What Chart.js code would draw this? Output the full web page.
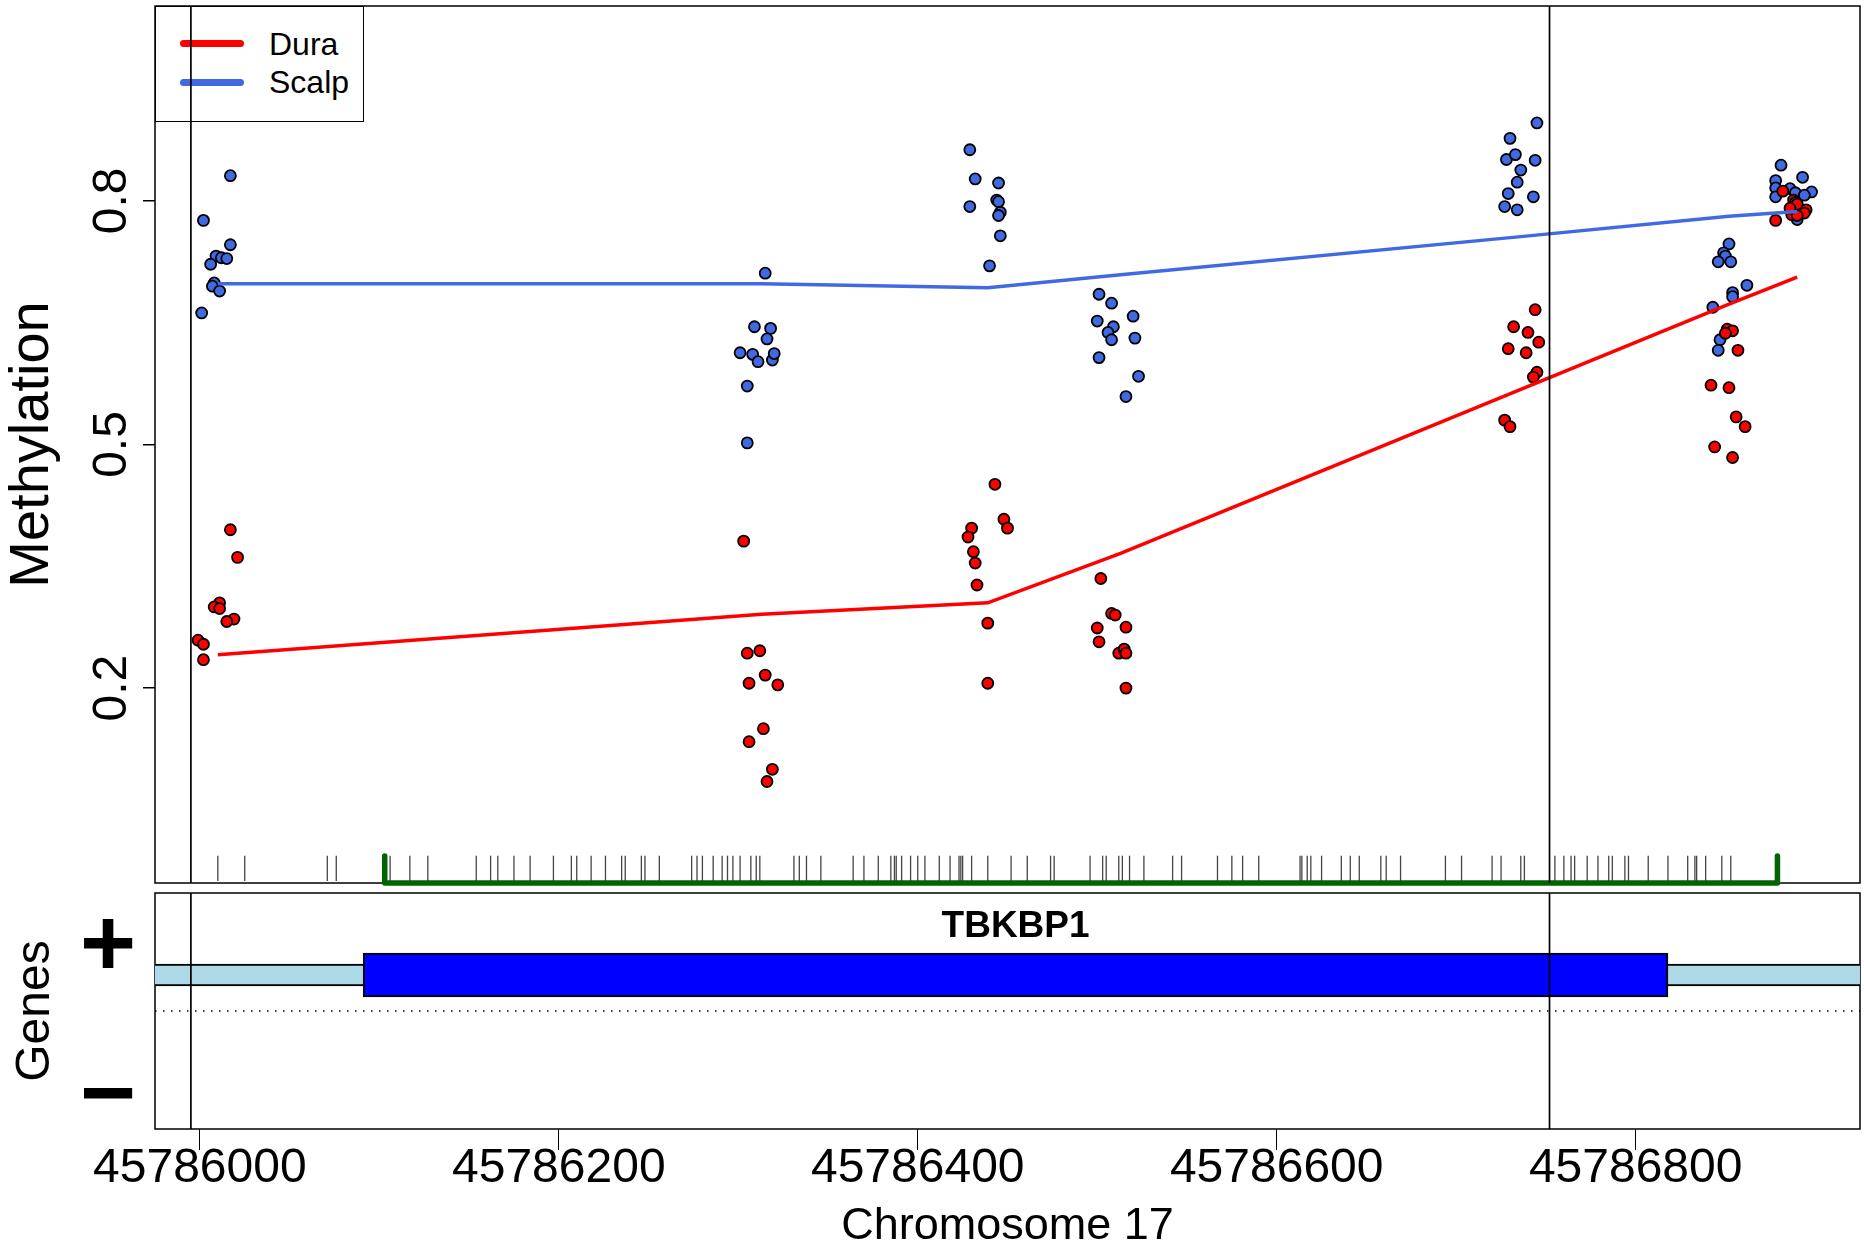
<!DOCTYPE html>
<html lang="en">
<head>
  <meta charset="UTF-8">
  <title>TBKBP1 methylation, Dura vs Scalp</title>
  <script src="https://cdn.jsdelivr.net/npm/chart.js"></script>
  <style>
    body { margin: 0; background: #fff; }
    #wrap { position: relative; width: 1864px; height: 1243px; font-family: "Liberation Sans", Arial, sans-serif; }
    canvas { position: absolute; left: 0; z-index: 1; }
    #meth { top: 0; }
    #genes { top: 889px; }
    .legend { position: absolute; left: 155px; top: 6px; width: 209px; height: 116px; border: 1.5px solid #000; box-sizing: border-box; z-index: 0; }
    .legend .swatch { position: absolute; left: 24px; width: 64px; height: 7px; border-radius: 4px; }
    .legend .label { position: absolute; left: 113px; font-size: 32px; line-height: 32px; color: #000; }
  </style>
</head>
<body>
  <div id="wrap">
    <div class="legend">
      <div class="swatch" style="top:33px;background:#ff0000"></div>
      <div class="label" style="top:21px">Dura</div>
      <div class="swatch" style="top:72px;background:#4169e1"></div>
      <div class="label" style="top:59px">Scalp</div>
    </div>
    <canvas id="meth" width="1864" height="893"></canvas>
    <canvas id="genes" width="1864" height="354"></canvas>
  </div>

  <script>
    // axis ticks
    const xTicks = [45786000, 45786200, 45786400, 45786600, 45786800];
    const methTicks = [0.2, 0.5, 0.8];

    // per-sample methylation (x jittered around each CpG)
    const scalpPos = [
      45786017, 45786002, 45786017, 45786009, 45786012, 45786015, 45786006, 45786008, 45786007, 45786011, 45786001,
      45786315, 45786309, 45786318, 45786316, 45786301, 45786308, 45786311, 45786319, 45786320, 45786305, 45786305,
      45786429, 45786432, 45786445, 45786444, 45786445, 45786429, 45786446, 45786445, 45786446, 45786440,
      45786501, 45786508, 45786520, 45786500, 45786509, 45786506, 45786508, 45786521, 45786501, 45786523, 45786516,
      45786745, 45786730, 45786728, 45786733, 45786744, 45786736, 45786734, 45786729, 45786743, 45786727, 45786734,
      45786852, 45786849, 45786850, 45786846, 45786853, 45786862, 45786854, 45786854, 45786843, 45786847, 45786846,
      45786881, 45786893, 45786878, 45786878, 45786886, 45786898, 45786889, 45786894, 45786878, 45786890, 45786887
    ];
    const scalpMeth = [
      0.831, 0.776, 0.746, 0.732, 0.730, 0.729, 0.722, 0.699, 0.695, 0.689, 0.662,
      0.711, 0.645, 0.643, 0.630, 0.613, 0.611, 0.602, 0.604, 0.612, 0.572, 0.502,
      0.863, 0.827, 0.822, 0.801, 0.799, 0.793, 0.786, 0.782, 0.757, 0.720,
      0.685, 0.674, 0.658, 0.652, 0.645, 0.638, 0.629, 0.631, 0.607, 0.584, 0.559,
      0.896, 0.877, 0.851, 0.857, 0.850, 0.838, 0.823, 0.809, 0.805, 0.793, 0.789,
      0.747, 0.736, 0.732, 0.725, 0.725, 0.696, 0.687, 0.682, 0.669, 0.629, 0.616,
      0.844, 0.829, 0.825, 0.816, 0.815, 0.811, 0.810, 0.807, 0.805, 0.777, 0.785
    ];
    const duraPos = [
      45786017, 45786021, 45786011, 45786008, 45786011, 45786019, 45786015, 45785999, 45786002, 45786002,
      45786303, 45786305, 45786312, 45786306, 45786315, 45786322, 45786306, 45786314, 45786319, 45786316,
      45786443, 45786448, 45786450, 45786430, 45786428, 45786431, 45786432, 45786433, 45786439, 45786439,
      45786502, 45786508, 45786510, 45786500, 45786516, 45786501, 45786512, 45786515, 45786516, 45786516,
      45786744, 45786732, 45786740, 45786746, 45786729, 45786739, 45786745, 45786743, 45786727, 45786730,
      45786851, 45786854, 45786850, 45786857, 45786842, 45786852, 45786856, 45786861, 45786844, 45786854,
      45786882, 45786888, 45786889, 45786890, 45786895, 45786894, 45786887, 45786890, 45786878, 45786886
    ];
    const duraMeth = [
      0.395, 0.361, 0.305, 0.300, 0.298, 0.285, 0.282, 0.259, 0.254, 0.235,
      0.381, 0.243, 0.246, 0.206, 0.216, 0.204, 0.134, 0.150, 0.100, 0.085,
      0.451, 0.408, 0.397, 0.397, 0.386, 0.368, 0.354, 0.327, 0.280, 0.206,
      0.335, 0.292, 0.290, 0.274, 0.275, 0.257, 0.243, 0.248, 0.243, 0.200,
      0.666, 0.645, 0.638, 0.626, 0.618, 0.613, 0.589, 0.583, 0.530, 0.522,
      0.642, 0.640, 0.637, 0.616, 0.573, 0.570, 0.534, 0.522, 0.497, 0.484,
      0.812, 0.801, 0.798, 0.796, 0.789, 0.785, 0.783, 0.782, 0.776, 0.791
    ];

    // smoothed group means
    const smoothPos = [45786010, 45786313, 45786439, 45786513, 45786736, 45786852, 45786890];
    const duraSmooth = [0.241, 0.291, 0.305, 0.366, 0.568, 0.673, 0.706];
    const scalpSmooth = [0.698, 0.698, 0.693, 0.709, 0.756, 0.781, 0.787];

    // CpG sites (rug) and CpG island
    const cpgSites = [
      45786010, 45786025, 45786071, 45786076, 45786106, 45786117, 45786127, 45786154, 45786162, 45786166,
      45786175, 45786184, 45786197, 45786207, 45786210, 45786218, 45786226, 45786235, 45786237, 45786246,
      45786248, 45786256, 45786274, 45786277, 45786280, 45786286, 45786291, 45786294, 45786297, 45786301,
      45786307, 45786310, 45786312, 45786331, 45786334, 45786338, 45786346, 45786364, 45786370, 45786378,
      45786385, 45786387, 45786388, 45786391, 45786396, 45786400, 45786404, 45786412, 45786418, 45786423,
      45786424, 45786425, 45786430, 45786439, 45786452, 45786461, 45786474, 45786476, 45786496, 45786503,
      45786505, 45786512, 45786514, 45786518, 45786526, 45786542, 45786547, 45786567, 45786575, 45786581,
      45786590, 45786613, 45786614, 45786617, 45786619, 45786625, 45786636, 45786641, 45786646, 45786658,
      45786661, 45786669, 45786694, 45786703, 45786720, 45786725, 45786736, 45786738, 45786755, 45786760,
      45786764, 45786766, 45786773, 45786779, 45786785, 45786787, 45786794, 45786796, 45786807, 45786818,
      45786829, 45786833, 45786834, 45786839, 45786848, 45786853
    ];
    const islandRange = [45786103, 45786879];

    // region bounds and gene model
    const dmrBounds = [45785995, 45786752];
    const geneName = 'TBKBP1';
    const geneUTR = [45785900, 45787000];
    const geneCDS = [45786091, 45786818];
    const strandTicks = [0.52, -0.74];

    Chart.defaults.font.family = '"Liberation Sans", Arial, Helvetica, sans-serif';
    Chart.defaults.color = '#000';

    const xMin = 45785975, xMax = 45786925;
    const rugLevel = -0.022, rugTop = -0.0066;
    const zip = (xs, ys) => xs.map((x, i) => ({ x, y: ys[i] }));

    const vline = (x, y0, y1) => ({
      type: 'line', data: [{ x, y: y0 }, { x, y: y1 }],
      borderColor: '#000', borderWidth: 1.7, pointRadius: 0, order: 0
    });

    // frame under the data, like R's box()
    const panelBox = {
      id: 'panelBox',
      beforeDatasetsDraw(chart) {
        const { ctx, chartArea: a } = chart;
        ctx.save();
        ctx.strokeStyle = '#000';
        ctx.lineWidth = 1.5;
        ctx.strokeRect(a.left, a.top, a.right - a.left, a.bottom - a.top);
        ctx.restore();
      }
    };

    // R-style y labels, turned to read upwards
    const methLabels = {
      id: 'methLabels',
      afterDraw(chart) {
        const { ctx, scales: { y } } = chart;
        ctx.save();
        ctx.font = '48px "Liberation Sans", Arial, sans-serif';
        ctx.fillStyle = '#000';
        ctx.textAlign = 'center';
        ctx.textBaseline = 'middle';
        methTicks.forEach(v => {
          ctx.save();
          ctx.translate(y.right - 42, y.getPixelForValue(v));
          ctx.rotate(-Math.PI / 2);
          ctx.fillText(v.toFixed(1), 0, 0);
          ctx.restore();
        });
        ctx.restore();
      }
    };

    const geneLabel = {
      id: 'geneLabel',
      afterDatasetsDraw(chart) {
        const { ctx, scales: { x, y } } = chart;
        ctx.save();
        ctx.font = 'bold 37px "Liberation Sans", Arial, sans-serif';
        ctx.fillStyle = '#000';
        ctx.textAlign = 'center';
        ctx.textBaseline = 'middle';
        ctx.fillText(geneName, x.getPixelForValue((geneCDS[0] + geneCDS[1]) / 2), y.getPixelForValue(0.71));
        ctx.restore();
      }
    };

    new Chart(document.getElementById('meth'), {
      type: 'scatter',
      data: {
        datasets: [
          vline(dmrBounds[0], -0.04, 1.04),
          vline(dmrBounds[1], -0.04, 1.04),
          { type: 'line', label: 'Dura', data: zip(smoothPos, duraSmooth), borderColor: '#ff0000', borderWidth: 3.5, pointRadius: 0, tension: 0, order: 1 },
          { type: 'line', label: 'Scalp', data: zip(smoothPos, scalpSmooth), borderColor: '#4169e1', borderWidth: 3.5, pointRadius: 0, tension: 0, order: 2 },
          {
            type: 'line',
            data: [{ x: islandRange[0], y: rugTop }, { x: islandRange[0], y: -0.04 }, { x: islandRange[1], y: -0.04 }, { x: islandRange[1], y: rugTop }],
            borderColor: '#006400', borderWidth: 5.5, borderCapStyle: 'round', borderJoinStyle: 'round',
            pointRadius: 0, clip: false, order: 3
          },
          { data: zip(duraPos, duraMeth), pointRadius: 5.5, pointBackgroundColor: '#ff0000', pointBorderColor: '#000', pointBorderWidth: 1.8, order: 4 },
          { data: zip(scalpPos, scalpMeth), pointRadius: 5.5, pointBackgroundColor: '#4169e1', pointBorderColor: '#000', pointBorderWidth: 1.8, order: 5 },
          {
            data: cpgSites.map(x => ({ x, y: rugLevel })),
            pointStyle: 'line', pointRotation: 90, pointRadius: 12.7,
            pointBorderColor: '#444', pointBorderWidth: 1.3, order: 6
          }
        ]
      },
      options: {
        responsive: false,
        animation: false,
        events: [],
        layout: { autoPadding: false, padding: { top: 6, right: 4, bottom: 10, left: 0 } },
        plugins: { legend: { display: false }, tooltip: { enabled: false } },
        scales: {
          x: { type: 'linear', min: xMin, max: xMax, offset: false, display: false },
          y: {
            type: 'linear', min: -0.04, max: 1.04, offset: false,
            afterFit: s => { s.width = 155; s.paddingTop = 0; s.paddingBottom = 0; },
            afterBuildTicks: s => { s.ticks = methTicks.map(v => ({ value: v })); },
            ticks: { display: false },
            grid: { drawOnChartArea: false, drawTicks: true, tickLength: 12, color: '#000', lineWidth: 1.5 },
            border: { display: false },
            title: { display: true, text: 'Methylation', color: '#000', font: { size: 56, lineHeight: 1 }, padding: { top: 5, bottom: 0 } }
          }
        }
      },
      plugins: [panelBox, methLabels]
    });

    new Chart(document.getElementById('genes'), {
      type: 'scatter',
      data: {
        datasets: [
          vline(dmrBounds[0], -1, 1),
          vline(dmrBounds[1], -1, 1),
          {
            type: 'bar', indexAxis: 'y', grouped: false,
            data: [{ x: geneCDS, y: 0.305 }],
            backgroundColor: '#0000ff', borderColor: '#000', borderWidth: 2, borderSkipped: false,
            barThickness: 44, clip: 0, order: 1
          },
          {
            type: 'bar', indexAxis: 'y', grouped: false,
            data: [{ x: geneUTR, y: 0.305 }],
            backgroundColor: '#add8e6', borderColor: '#000', borderWidth: 2, borderSkipped: false,
            barThickness: 22, clip: 0, order: 2
          },
          {
            type: 'line', data: [{ x: xMin, y: 0 }, { x: xMax, y: 0 }],
            borderColor: '#000', borderWidth: 1.3, borderDash: [1.5, 6.5], pointRadius: 0, order: 3
          }
        ]
      },
      options: {
        responsive: false,
        animation: false,
        events: [],
        layout: { autoPadding: false, padding: { top: 4, right: 4, bottom: 0, left: 0 } },
        plugins: { legend: { display: false }, tooltip: { enabled: false } },
        scales: {
          x: {
            type: 'linear', min: xMin, max: xMax, stacked: false, offset: false,
            afterFit: s => { s.height = 114; s.paddingLeft = 0; s.paddingRight = 0; },
            afterBuildTicks: s => { s.ticks = xTicks.map(v => ({ value: v })); },
            ticks: { autoSkip: false, minRotation: 0, maxRotation: 0, padding: -10, font: { size: 48 }, color: '#000', callback: v => String(v) },
            grid: { offset: false, drawOnChartArea: false, drawTicks: true, tickLength: 21, color: '#000', lineWidth: 1 },
            border: { display: false },
            title: { display: true, text: 'Chromosome 17', color: '#000', font: { size: 45, lineHeight: 1 }, padding: { top: 0, bottom: -6 } }
          },
          y: {
            type: 'linear', min: -1, max: 1, offset: false,
            afterFit: s => { s.width = 155; s.paddingTop = 0; s.paddingBottom = 0; },
            afterBuildTicks: s => { s.ticks = strandTicks.map(v => ({ value: v })); },
            ticks: { autoSkip: false, padding: 19, color: '#000', font: { size: 96, weight: 'bold' }, callback: v => (v > 0 ? '+' : '\u2212') },
            grid: { offset: false, display: false, drawTicks: false },
            border: { display: false },
            title: { display: true, text: 'Genes', color: '#000', font: { size: 48, lineHeight: 1 }, padding: { top: 12, bottom: 0 } }
          }
        }
      },
      plugins: [panelBox, geneLabel]
    });
  </script>
</body>
</html>
